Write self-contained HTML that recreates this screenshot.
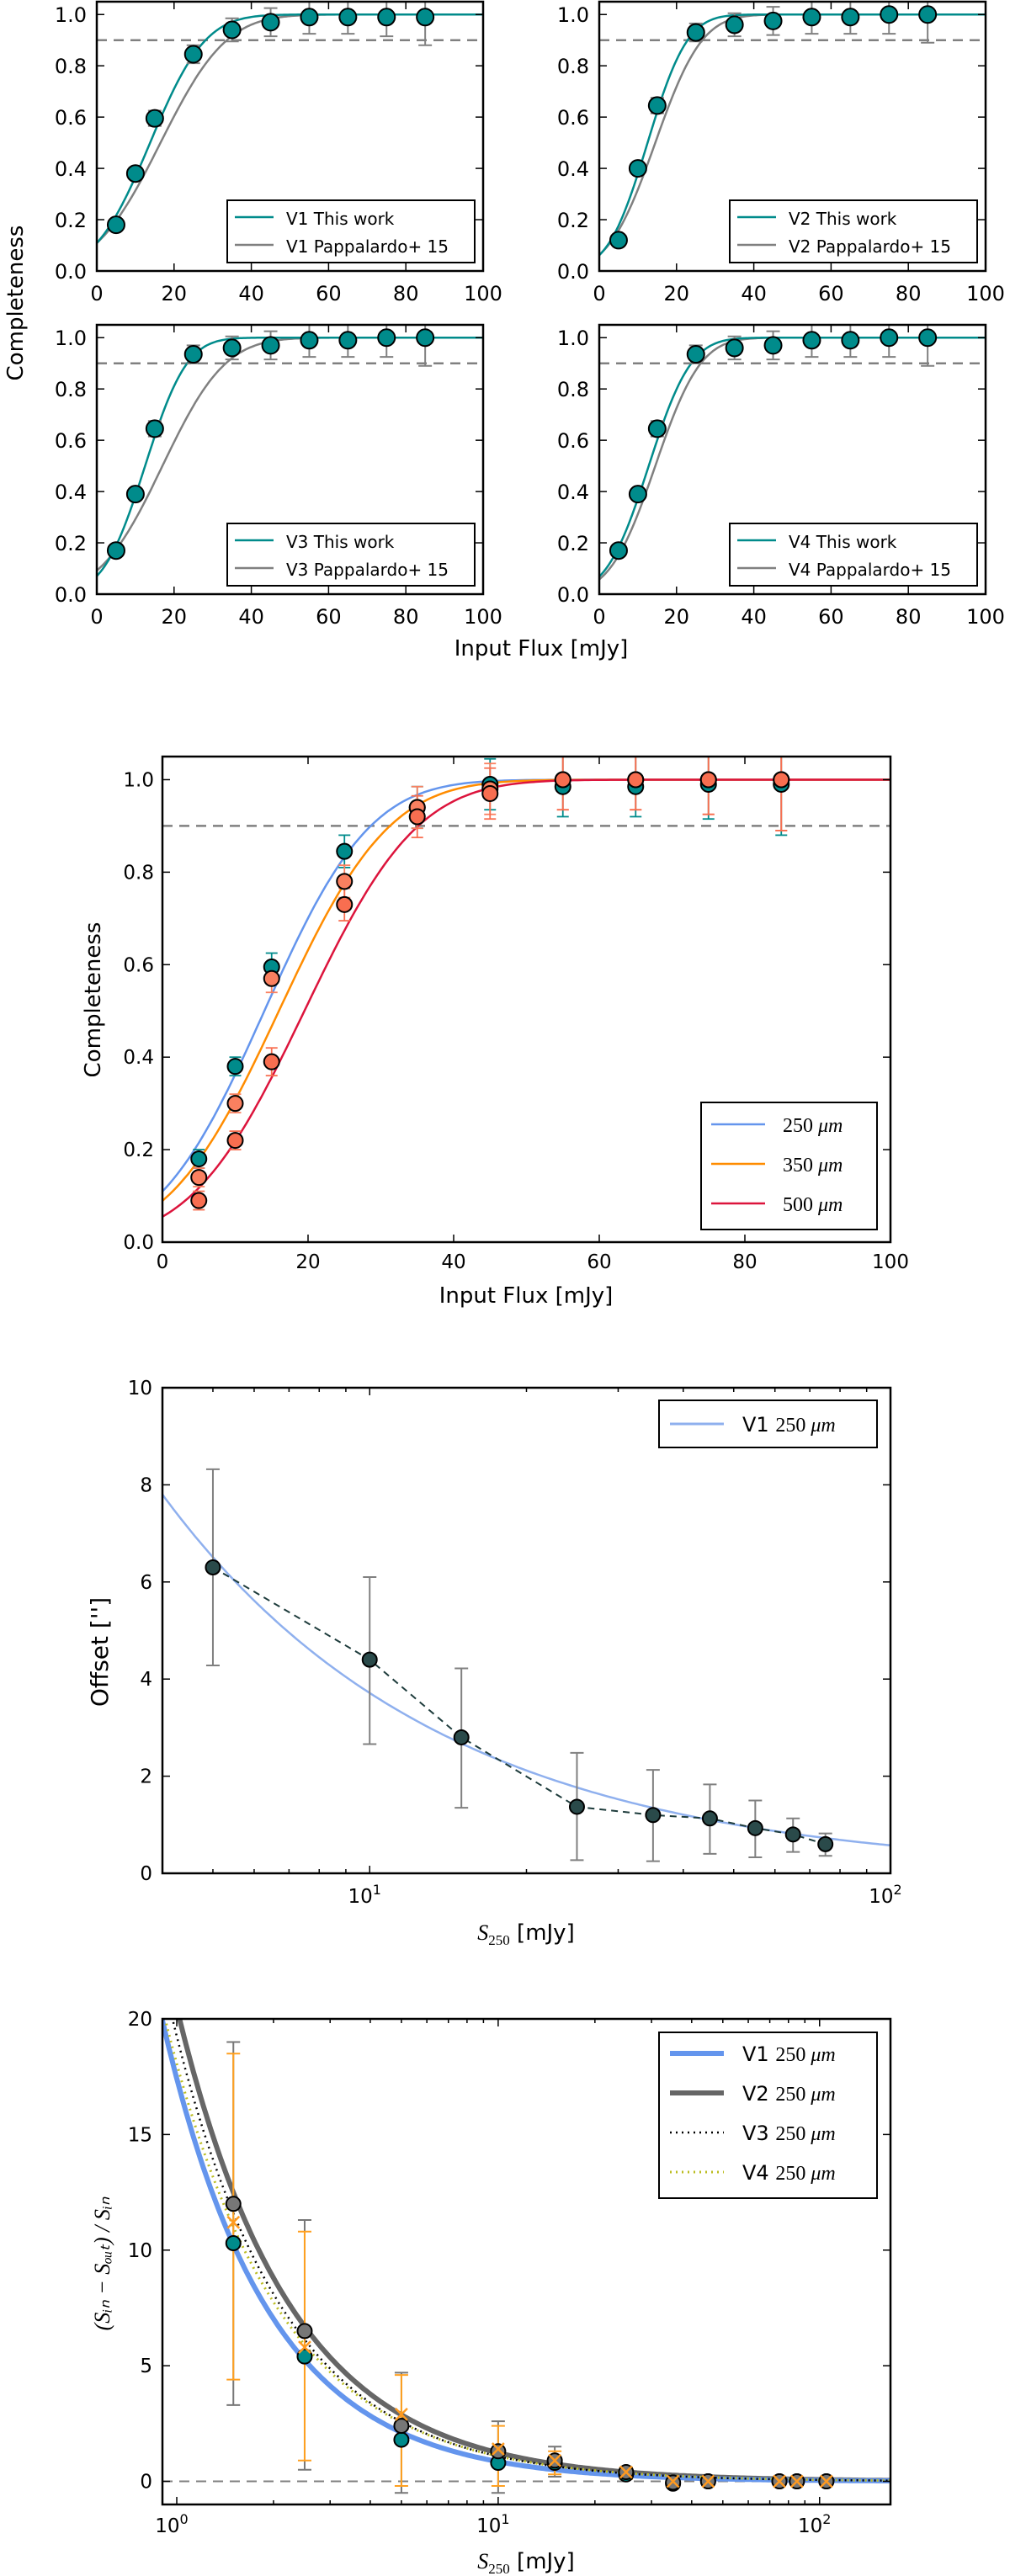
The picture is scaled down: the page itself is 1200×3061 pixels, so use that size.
<!DOCTYPE html>
<html><head><meta charset="utf-8"><style>
html,body{margin:0;padding:0;background:#fff;}
svg{display:block;font-family:"DejaVu Sans","Liberation Sans",sans-serif;}
</style></head><body>
<svg id="fig" width="1200" height="3061" viewBox="0 0 1200 3061" xmlns="http://www.w3.org/2000/svg"></svg>
<script>
// ---------- data ----------
const fluxBins=[5,10,15,25,35,45,55,65,75,85];
const v1Comp=[0.18,0.38,0.595,0.845,0.94,0.97,0.99,0.99,0.99,0.99];
const v2Comp=[0.12,0.40,0.645,0.93,0.96,0.975,0.99,0.99,1.0,1.0];
const v3Comp=[0.17,0.39,0.645,0.935,0.96,0.97,0.99,0.99,1.0,1.0];
const v4Comp=[0.17,0.39,0.645,0.935,0.96,0.97,0.99,0.99,1.0,1.0];
const compErr=[0.02,0.02,0.03,0.035,0.045,0.055,0.065,0.065,0.075,0.11];
const thisWorkMu=[13.8,12.5,12.5,12.8];
const thisWorkSig=[11.2,8.1,8.5,8.6];
const pappMu=[16.5,14.5,17,14.5];
const pappSig=[13.4,9.5,12.8,9.2];
const comp250=[0.18,0.38,0.595,0.845,0.94,0.99,0.985,0.985,0.99,0.99];
const comp350=[0.14,0.30,0.57,0.78,0.94,0.98,1.0,1.0,1.0,1.0];
const comp500=[0.09,0.22,0.39,0.73,0.92,0.97,1.0,1.0,1.0,1.0];
const waveMu=[14,16,19.5];
const waveSig=[11.4,11.9,12.2];
const offsetFlux=[5,10,15,25,35,45,55,65,75];
const offsetVal=[6.3,4.4,2.8,1.37,1.2,1.13,0.93,0.8,0.6];
const offsetHi=[8.32,6.1,4.22,2.48,2.13,1.83,1.5,1.13,0.82];
const offsetLo=[4.28,2.66,1.35,0.27,0.25,0.4,0.33,0.44,0.36];
const offsetFit=[7.8,4,0.81];
const boostFlux=[1.5,2.5,5,10,15,25,35,45,75,85,105];
const boostV1=[10.3,5.4,1.8,0.8,0.8,0.3,-0.1,0,0,0,0];
const boostV2=[12,6.5,2.4,1.3,0.9,0.4,-0.05,0,0,0,0];
const boostV4=[11.2,5.8,2.9,1.4,0.9,0.4,0,0,0,0,0];
const boostV2Lo=[3.3,0.5,-0.5,-0.5,0.2,0.1,-0.1,-0.1,-0.1,-0.1,-0.1];
const boostV2Hi=[19,11.3,4.7,2.6,1.5,0.6,0.1,0.1,0.1,0.1,0.1];
const boostV4Lo=[4.4,0.9,-0.2,-0.2,0.3,0.1,-0.1,-0.1,-0.1,-0.1,-0.1];
const boostV4Hi=[18.5,10.8,4.6,2.4,1.3,0.6,0.1,0.1,0.1,0.1,0.1];
const boostFitX0=[0.9,1.02,0.97,0.92];
const boostFitB=[1.31,1.22,1.25,1.22];

// ---------- helpers ----------
const NS='http://www.w3.org/2000/svg';
const svg=document.getElementById('fig');
function mk(tag,attrs,parent){const e=document.createElementNS(NS,tag);for(const k in attrs)e.setAttribute(k,attrs[k]);(parent||svg).appendChild(e);return e;}
function erf(x){const s=x<0?-1:1;x=Math.abs(x);const t=1/(1+0.3275911*x);const y=1-(((((1.061405429*t-1.453152027)*t)+1.421413741)*t-0.284496736)*t+0.254829592)*t*Math.exp(-x*x);return s*y;}
function cdf(x,mu,s){return 0.5*(1+erf((x-mu)/(Math.SQRT2*s)));}
function lin(d0,d1,p0,p1){return v=>p0+(v-d0)/(d1-d0)*(p1-p0);}
function logs(d0,d1,p0,p1){return v=>p0+(Math.log10(v)-Math.log10(d0))/(Math.log10(d1)-Math.log10(d0))*(p1-p0);}
function text(g,x,y,s,size,anchor,extra){const t=mk('text',Object.assign({x:x,y:y,'font-size':size,'text-anchor':anchor||'middle',fill:'#000'},extra||{}),g);t.textContent=s;return t;}
function frame(g,x0,y0,x1,y1){const r=mk('rect',{x:x0,y:y0,width:x1-x0,height:y1-y0,fill:'none',stroke:'#000','stroke-width':2.5},g);}
function tick(g,x1,y1,x2,y2){const l=mk('line',{x1:x1,y1:y1,x2:x2,y2:y2,stroke:'#000','stroke-width':1.5},g);return l;}
function pathFrom(fn,xs,sx,sy){let d='';xs.forEach((x,i)=>{d+=(i?'L':'M')+sx(x).toFixed(1)+','+sy(fn(x)).toFixed(1);});return d;}
function range(a,b,n){const r=[];for(let i=0;i<=n;i++)r.push(a+(b-a)*i/n);return r;}
function logRange(a,b,n){const r=[];for(let i=0;i<=n;i++)r.push(Math.pow(10,Math.log10(a)+(Math.log10(b)-Math.log10(a))*i/n));return r;}
function errbar(g,x,ylo,yhi,color,cap,w){mk('line',{x1:x,y1:ylo,x2:x,y2:yhi,stroke:color,'stroke-width':w||2},g);mk('line',{x1:x-cap,y1:ylo,x2:x+cap,y2:ylo,stroke:color,'stroke-width':w||2},g);mk('line',{x1:x-cap,y1:yhi,x2:x+cap,y2:yhi,stroke:color,'stroke-width':w||2},g);}
function marker(g,x,y,r,fill){const c=mk('circle',{cx:x,cy:y,r:r,fill:fill,stroke:'#000','stroke-width':2},g);return c;}

// ---------- panel 1: four completeness subplots ----------
const subs=[
 {x0:115,x1:574,yt:2,yb:322,comp:v1Comp,lab:'V1'},
 {x0:712,x1:1171,yt:2,yb:322,comp:v2Comp,lab:'V2'},
 {x0:115,x1:574,yt:386,yb:706,comp:v3Comp,lab:'V3'},
 {x0:712,x1:1171,yt:386,yb:706,comp:v4Comp,lab:'V4'}];
subs.forEach((s,k)=>{
 const g=mk('g',{});
 
 
 const sx=lin(0,100,s.x0,s.x1), sy=lin(0,1.05,s.yb,s.yt);
 const dl=mk('line',{x1:s.x0,y1:sy(0.9),x2:s.x1,y2:sy(0.9),stroke:'#808080','stroke-width':2.5,'stroke-dasharray':'12,8'},g);
 
 
 const xs=range(0,100,200);
 const gp=mk('path',{d:pathFrom(x=>cdf(x,pappMu[k],pappSig[k]),xs,sx,sy),fill:'none',stroke:'#808080','stroke-width':2.5},g);
 
 
 const tp=mk('path',{d:pathFrom(x=>cdf(x,thisWorkMu[k],thisWorkSig[k]),xs,sx,sy),fill:'none',stroke:'#008b8b','stroke-width':2.5},g);
 
 
 fluxBins.forEach((f,i)=>{
  const eg=mk('g',{},g);
  
  
  errbar(eg,sx(f),sy(s.comp[i]-compErr[i]),Math.max(s.yt,sy(s.comp[i]+compErr[i])),'#808080',8,2);
  const m=marker(g,sx(f),sy(s.comp[i]),10,'#008b8b');
  
  
 });
 frame(g,s.x0,s.yt,s.x1,s.yb);
 [0,20,40,60,80,100].forEach(v=>{tick(g,sx(v),s.yb,sx(v),s.yb-9);tick(g,sx(v),s.yt,sx(v),s.yt+9);
  const t=text(g,sx(v),s.yb+35,String(v),24);});
 [0,0.2,0.4,0.6,0.8,1.0].forEach(v=>{tick(g,s.x0,sy(v),s.x0+9,sy(v));tick(g,s.x1,sy(v),s.x1-9,sy(v));
  const t=text(g,s.x0-12,sy(v)+9,v.toFixed(1),24,'end');});
 const lg=mk('g',{},g);
 
 
 const lx0=s.x0+155, ly0=s.yb-84;
 mk('rect',{x:lx0,y:ly0,width:294,height:74,fill:'#fff',stroke:'#000','stroke-width':2},lg);
 mk('line',{x1:lx0+9,y1:ly0+20,x2:lx0+55,y2:ly0+20,stroke:'#008b8b','stroke-width':2.5},lg);
 mk('line',{x1:lx0+9,y1:ly0+53,x2:lx0+55,y2:ly0+53,stroke:'#808080','stroke-width':2.5},lg);
 const t1=text(lg,lx0+70,ly0+29,s.lab+' This work',20,'start');
 const t2=text(lg,lx0+70,ly0+62,s.lab+' Pappalardo+ 15',20,'start');
});
const yl1=text(svg,0,0,'Completeness',26,'middle',{transform:'translate(27,360) rotate(-90)'});


const xl1=text(svg,643,779,'Input Flux [mJy]',26);



// ---------- panel 2: completeness by wavelength ----------
(function(){
 const g=mk('g',{});
 
 
 const x0=193,x1=1058,yt=899,yb=1476;
 const sx=lin(0,100,x0,x1), sy=lin(0,1.05,yb,yt);
 const dl=mk('line',{x1:x0,y1:sy(0.9),x2:x1,y2:sy(0.9),stroke:'#808080','stroke-width':2.5,'stroke-dasharray':'12,8'},g);
 
 
 const cols=['#6495ed','#ff8c00','#dc143c'];
 const names=['250','350','500'];
 const xs=range(0,100,200);
 [0,1,2].forEach(k=>{
  const p=mk('path',{d:pathFrom(x=>cdf(x,waveMu[k],waveSig[k]),xs,sx,sy),fill:'none',stroke:cols[k],'stroke-width':2.5},g);
  
  
 });
 const sets=[[comp250,'#008b8b','#008b8b'],[comp350,'#fa8060','#fa8060'],[comp500,'#f86e50','#f86e50']];
 sets.forEach((st,k)=>{
  fluxBins.forEach((f,i)=>{
   const eg=mk('g',{},g);
   
   
   errbar(eg,sx(f),sy(st[0][i]-compErr[i]),Math.max(yt,sy(st[0][i]+compErr[i])),st[2],7,1.8);
  });
 });
 sets.forEach((st,k)=>{
  fluxBins.forEach((f,i)=>{
   const m=marker(g,sx(f),sy(st[0][i]),9,st[1]);
   
   
  });
 });
 frame(g,x0,yt,x1,yb);
 [0,20,40,60,80,100].forEach(v=>{tick(g,sx(v),yb,sx(v),yb-9);tick(g,sx(v),yt,sx(v),yt+9);
  const t=text(g,sx(v),yb+31,String(v),23);});
 [0,0.2,0.4,0.6,0.8,1.0].forEach(v=>{tick(g,x0,sy(v),x0+9,sy(v));tick(g,x1,sy(v),x1-9,sy(v));
  const t=text(g,x0-10,sy(v)+8,v.toFixed(1),23,'end');});
 const lg=mk('g',{},g);
 
 
 mk('rect',{x:833,y:1310,width:209,height:151,fill:'#fff',stroke:'#000','stroke-width':2},lg);
 [0,1,2].forEach(k=>{
  const yy=1336+k*47;
  mk('line',{x1:845,y1:yy,x2:909,y2:yy,stroke:cols[k],'stroke-width':2.5},lg);
  const t=mk('text',{x:930,y:yy+9,'font-size':24,'font-family':'Liberation Serif, serif'},lg);
  t.textContent=names[k]+' ';
  const ts=mk('tspan',{'font-style':'italic'},t);ts.textContent='μm';
  
  
 });
 const yl=text(svg,0,0,'Completeness',26,'middle',{transform:'translate(119,1188) rotate(-90)'});
 
 
 const xl=text(svg,625,1548,'Input Flux [mJy]',26);
 
 
})();

function logTicks(g,sx,d0,d1,x0,x1,yt,yb,labelY){
 for(let e=Math.floor(Math.log10(d0));e<=Math.ceil(Math.log10(d1));e++){
  for(let m=1;m<10;m++){const v=m*Math.pow(10,e);if(v<d0||v>d1)continue;const L=m===1?9:5;
   tick(g,sx(v),yb,sx(v),yb-L);tick(g,sx(v),yt,sx(v),yt+L);
   if(m===1){const t=text(g,sx(v)-6,labelY,'10',23);const s=mk('tspan',{dy:-10,'font-size':16},t);s.textContent=String(e);
    }}
 }
}
function s250Label(x,y,name){
 const t=mk('text',{x:x,y:y,'font-size':26,'text-anchor':'middle'});
 const a=mk('tspan',{'font-family':'Liberation Serif, serif','font-style':'italic'},t);a.textContent='S';
 const b=mk('tspan',{'font-family':'Liberation Serif, serif','font-size':17,dy:6},t);b.textContent='250';
 const c=mk('tspan',{dy:-6},t);c.textContent=' [mJy]';
 
 
}

// ---------- panel 3: offset ----------
(function(){
 const g=mk('g',{});
 
 
 const x0=193,x1=1058,yt=1649,yb=2226;
 const sx=logs(4,100,x0,x1), sy=lin(0,10,yb,yt);
 const fit=mk('path',{d:pathFrom(x=>offsetFit[0]*Math.pow(x/offsetFit[1],-offsetFit[2]),logRange(4,100,200),sx,sy),fill:'none',stroke:'#8fb0ee','stroke-width':2.5},g);
 
 
 offsetFlux.forEach((f,i)=>{
  const eg=mk('g',{},g);
  
  
  errbar(eg,sx(f),sy(offsetLo[i]),sy(offsetHi[i]),'#808080',8,2);
 });
 let d='';offsetFlux.forEach((f,i)=>{d+=(i?'L':'M')+sx(f).toFixed(1)+','+sy(offsetVal[i]).toFixed(1);});
 const dl=mk('path',{d:d,fill:'none',stroke:'#1e3c3c','stroke-width':2,'stroke-dasharray':'8,6'},g);
 
 
 offsetFlux.forEach((f,i)=>{
  const m=marker(g,sx(f),sy(offsetVal[i]),8.5,'#2a4a4a');
  
  
 });
 frame(g,x0,yt,x1,yb);
 logTicks(g,sx,4,100,x0,x1,yt,yb,yb+35);
 [0,2,4,6,8,10].forEach(v=>{tick(g,x0,sy(v),x0+9,sy(v));tick(g,x1,sy(v),x1-9,sy(v));
  const t=text(g,x0-12,sy(v)+8,String(v),23,'end');});
 const lg=mk('g',{},g);
 
 
 mk('rect',{x:783,y:1664,width:259,height:56,fill:'#fff',stroke:'#000','stroke-width':2},lg);
 mk('line',{x1:796,y1:1692,x2:860,y2:1692,stroke:'#8fb0ee','stroke-width':3},lg);
 const t=mk('text',{x:882,y:1701,'font-size':24},lg);
 t.textContent='V1 ';
 const s=mk('tspan',{'font-family':'Liberation Serif, serif'},t);s.textContent='250 ';
 const u=mk('tspan',{'font-family':'Liberation Serif, serif','font-style':'italic'},t);u.textContent='μm';
 
 
 const yl=text(svg,0,0,'Offset [\'\']',28,'middle',{transform:'translate(128,1963) rotate(-90)'});
 
 
 s250Label(625,2305,'x-axis-title-offset');
})();

// ---------- panel 4: flux boosting ----------
(function(){
 const g=mk('g',{});
 
 
 const x0=193,x1=1058,yt=2399,yb=2976;
 const sx=logs(0.9025,166.2,x0,x1), sy=lin(-1,20,yb,yt);
 const cp=mk('clipPath',{id:'bclip'},g);mk('rect',{x:x0,y:yt,width:x1-x0,height:yb-yt},cp);
 const dl=mk('line',{x1:x0,y1:sy(0),x2:x1,y2:sy(0),stroke:'#808080','stroke-width':2,'stroke-dasharray':'12,8'},g);
 
 
 const styles=[{c:'#6495ed',w:6,da:'none',n:'v1'},{c:'#666',w:6,da:'none',n:'v2'},{c:'#000',w:2.5,da:'2,5',n:'v3'},{c:'#bcbd22',w:3,da:'2,5',n:'v4'}];
 const xs=logRange(0.85,170,300);
 [1,0,2,3].forEach(k=>{
  const st=styles[k];
  const p=mk('path',{d:pathFrom(x=>20*Math.pow(x/boostFitX0[k],-boostFitB[k]),xs,sx,sy),fill:'none',stroke:st.c,'stroke-width':st.w,'stroke-dasharray':st.da,'clip-path':'url(#bclip)'},g);
  
  
 });
 boostFlux.forEach((f,i)=>{
  const eg=mk('g',{},g);
  
  
  errbar(eg,sx(f),sy(boostV2Lo[i]),sy(boostV2Hi[i]),'#777',8,2);
  errbar(eg,sx(f),sy(boostV4Lo[i]),sy(boostV4Hi[i]),'#ffa020',8,2);
 });
 boostFlux.forEach((f,i)=>{
  const m1=marker(g,sx(f),sy(boostV1[i]),8.5,'#008b8b');
  
  
  const m2=marker(g,sx(f),sy(boostV2[i]),8.5,'#777');
  
  
  const X=sx(f),Y=sy(boostV4[i]);
  const xm=mk('path',{d:`M${X-7},${Y-7}L${X+7},${Y+7}M${X-7},${Y+7}L${X+7},${Y-7}`,stroke:'#ff9a20','stroke-width':2.5,fill:'none'},g);
  
  
 });
 frame(g,x0,yt,x1,yb);
 logTicks(g,sx,0.9025,166.2,x0,x1,yt,yb,yb+33);
 [0,5,10,15,20].forEach(v=>{tick(g,x0,sy(v),x0+9,sy(v));tick(g,x1,sy(v),x1-9,sy(v));
  const t=text(g,x0-12,sy(v)+8,String(v),23,'end');});
 const lg=mk('g',{},g);
 
 
 mk('rect',{x:783,y:2415,width:259,height:197,fill:'#fff',stroke:'#000','stroke-width':2},lg);
 [0,1,2,3].forEach(k=>{
  const st=styles[k];const yy=2440+k*47;
  mk('line',{x1:796,y1:yy,x2:860,y2:yy,stroke:st.c,'stroke-width':st.w,'stroke-dasharray':st.da},lg);
  const t=mk('text',{x:882,y:yy+9,'font-size':24},lg);
  t.textContent='V'+(k+1)+' ';
  const s=mk('tspan',{'font-family':'Liberation Serif, serif'},t);s.textContent='250 ';
  const u=mk('tspan',{'font-family':'Liberation Serif, serif','font-style':'italic'},t);u.textContent='μm';
  
  
 });
 const yl=mk('text',{transform:'translate(130,2690) rotate(-90)','font-size':26,'text-anchor':'middle','font-family':'Liberation Serif, serif','font-style':'italic'});
 yl.textContent='(Sᵢₙ − Sₒᵤₜ) / Sᵢₙ';
 
 
 s250Label(625,3052,'x-axis-title-boost');
})();
</script>
</body></html>
